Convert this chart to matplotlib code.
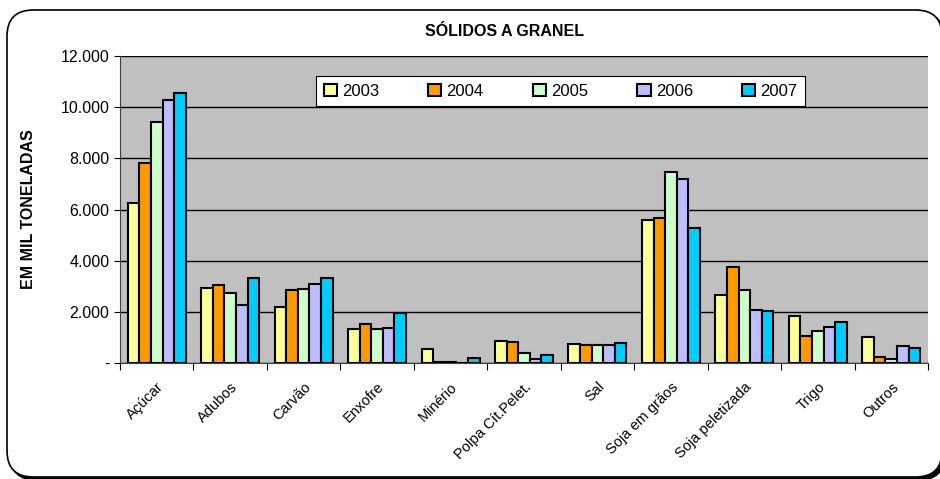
import numpy as np
import matplotlib.pyplot as plt
from matplotlib.patches import FancyBboxPatch
from matplotlib.ticker import FuncFormatter

plt.rcParams['font.family'] = ['Liberation Sans Narrow', 'Liberation Sans', 'DejaVu Sans']

categorias = ['Açúcar', 'Adubos', 'Carvão', 'Enxofre', 'Minério', 'Polpa Cít.Pelet.',
              'Sal', 'Soja em grãos', 'Soja peletizada', 'Trigo', 'Outros']
anos = ['2003', '2004', '2005', '2006', '2007']
v2003 = [6250, 2930, 2190, 1330, 550, 860, 740, 5590, 2660, 1840, 1020]
v2004 = [7810, 3050, 2850, 1520, 30, 820, 700, 5660, 3750, 1050, 230]
v2005 = [9410, 2730, 2890, 1330, 30, 390, 700, 7460, 2850, 1250, 160]
v2006 = [10270, 2270, 3090, 1370, 0, 160, 700, 7190, 2070, 1410, 660]
v2007 = [10550, 3320, 3320, 1950, 200, 310, 780, 5270, 2030, 1600, 590]
series = [v2003, v2004, v2005, v2006, v2007]
cores = ['#FFFF99', '#FF9900', '#CCFFCC', '#BDBDFF', '#00CCFF']

fig = plt.figure(figsize=(9.4, 4.79), dpi=100)
ax = fig.add_axes([120/940, 1-363/479, 808/940, 307/479])

# moldura arredondada com sombra
for dx, dy, fc, z in [(3, -3, 'black', -11), (0, 0, 'white', -10)]:
    p = FancyBboxPatch(((7 + dx)/940, (2 + dy)/479), 935/940, 467/479,
                       boxstyle='round,pad=0,rounding_size=0.028',
                       transform=fig.transFigure, fc=fc, ec='black', lw=1.2,
                       mutation_aspect=940/479, zorder=z)
    fig.patches.append(p)

x = np.arange(len(categorias))
w = 0.158
for i, (vals, cor, ano) in enumerate(zip(series, cores, anos)):
    ax.bar(x + (i - 2) * w, vals, w, color=cor, edgecolor='black', lw=1.5, label=ano, zorder=3)

ax.set_facecolor('#C0C0C0')
ax.set_xlim(-0.5, len(categorias) - 0.5)
ax.set_ylim(0, 12000)
ax.set_yticks(range(0, 12001, 2000))
ax.yaxis.set_major_formatter(FuncFormatter(lambda v, p: '-' if v == 0 else f'{int(v):,}'.replace(',', '.')))
ax.grid(axis='y', color='black', lw=1, zorder=0)
ax.set_xticks(np.arange(len(categorias) + 1) - 0.5)
ax.set_xticklabels([])
ax.set_xticks(x, minor=True)
ax.set_xticklabels(categorias, minor=True, rotation=45, ha='right', rotation_mode='anchor', fontsize=10.5)
ax.tick_params(axis='x', which='minor', length=0, pad=12)
ax.tick_params(axis='x', which='major', length=5, color='black')
ax.tick_params(axis='y', labelsize=11.5, length=4)
for s in ['top', 'right']:
    ax.spines[s].set_visible(False)
ax.spines['left'].set_color('#404040')
ax.spines['bottom'].set_color('#404040')

ax.set_ylabel('EM MIL TONELADAS', fontsize=11.5, fontweight='bold', labelpad=18)
fig.text(0.537, 1-32/479, 'SÓLIDOS A GRANEL', ha='center', va='center', fontsize=11.5, fontweight='bold')

leg = ax.legend(ncol=5, loc='upper left', bbox_to_anchor=((316-120)/808, (363-76)/307),
                borderaxespad=0, fancybox=False, framealpha=1, edgecolor='black', fontsize=12,
                handlelength=0.8, handleheight=0.8, handletextpad=0.3, columnspacing=2.95,
                borderpad=0.45)
leg.get_frame().set_linewidth(0.8)

fig.savefig('out.png', dpi=100)
